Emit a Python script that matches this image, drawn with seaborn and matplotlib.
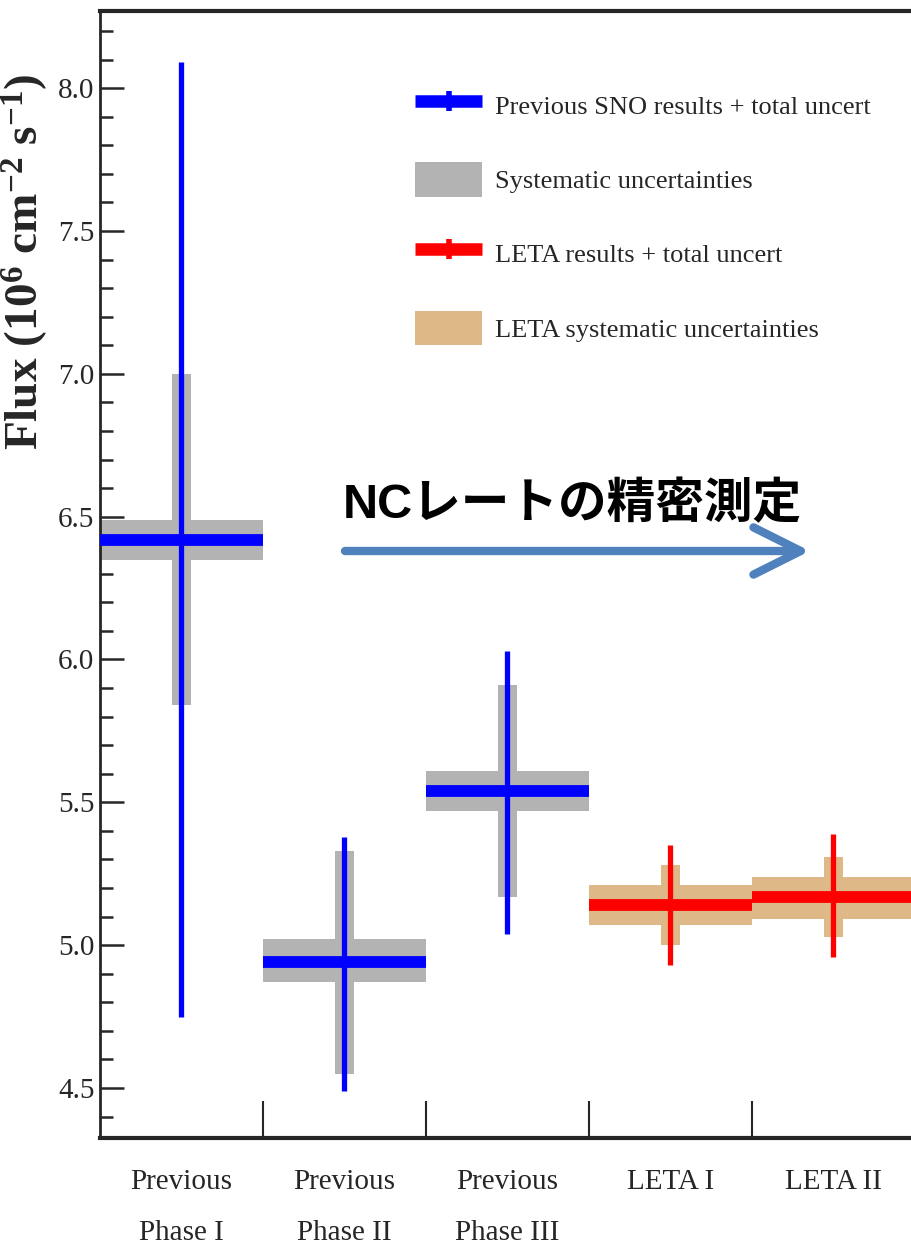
import matplotlib
matplotlib.use("Agg")
import matplotlib.pyplot as plt
from matplotlib.lines import Line2D
from matplotlib.patches import Patch
from matplotlib.ticker import MultipleLocator, FixedLocator
import seaborn as sns

# values (10^6 cm^-2 s^-1)
categories = ["Previous\nPhase I", "Previous\nPhase II", "Previous\nPhase III", "LETA I", "LETA II"]
flux = [6.42, 4.94, 5.54, 5.14, 5.17]
total_hi = [8.09, 5.38, 6.03, 5.35, 5.39]
total_lo = [4.75, 4.49, 5.04, 4.93, 4.96]
syst_hi = [7.00, 5.33, 5.91, 5.28, 5.31]
syst_lo = [5.84, 4.55, 5.17, 5.00, 5.03]
band_hi = [6.49, 5.02, 5.61, 5.21, 5.24]
band_lo = [6.35, 4.87, 5.47, 5.07, 5.09]
is_leta = [False, False, False, True, True]

BLUE, RED = "#0000ff", "#ff0000"
GRAY, TAN = "#b3b3b3", "#deb887"
SERIF = "Liberation Serif"

sns.set_style("ticks")
plt.rcParams["font.family"] = [SERIF, "DejaVu Serif"]
plt.rcParams["mathtext.fontset"] = "custom"
plt.rcParams["mathtext.rm"] = SERIF + ":bold"
plt.rcParams["mathtext.it"] = SERIF + ":bold"
plt.rcParams["mathtext.bf"] = SERIF + ":bold"

fig = plt.figure(figsize=(9.12, 12.52), dpi=100)
ax = fig.add_axes([100 / 912, 1 - 1138 / 1252, 815 / 912, 1127 / 1252])

xs = list(range(len(categories)))
for x, f, th, tl, sh, sl, bh, bl, leta in zip(xs, flux, total_hi, total_lo, syst_hi,
                                              syst_lo, band_hi, band_lo, is_leta):
    line_c = RED if leta else BLUE
    box_c = TAN if leta else GRAY
    ax.bar(x, bh - bl, bottom=bl, width=1.0, color=box_c, linewidth=0, zorder=1)
    ax.bar(x, sh - sl, bottom=sl, width=0.118, color=box_c, linewidth=0, zorder=1)
    ax.hlines(f, x - 0.5, x + 0.5, color=line_c, lw=8.5, zorder=3)
    ax.vlines(x, tl, th, color=line_c, lw=3.8, zorder=3)

ax.set_xlim(-0.5, 4.5)
ax.set_ylim(4.325, 8.27)

ax.yaxis.set_major_locator(MultipleLocator(0.5))
ax.yaxis.set_minor_locator(MultipleLocator(0.1))
ax.yaxis.set_major_formatter(matplotlib.ticker.FormatStrFormatter("%.1f"))
ax.tick_params(axis="y", which="major", direction="in", length=17, width=1.8,
               labelsize=21, pad=4)
ax.tick_params(axis="y", which="minor", direction="in", length=9, width=1.8)

ax.set_xticks(xs)
ax.set_xticklabels(categories, fontsize=21, linespacing=2.25, va="top")
ax.xaxis.set_minor_locator(FixedLocator([0.5, 1.5, 2.5, 3.5]))
ax.tick_params(axis="x", which="major", length=0, pad=22)
ax.tick_params(axis="x", which="minor", direction="in", length=27, width=1.5)

ax.spines["left"].set_linewidth(2)
for side in ["top", "bottom"]:
    ax.spines[side].set_linewidth(3)
ax.spines["right"].set_visible(False)

ax.set_ylabel(r"Flux (10$^{6}$ cm$^{-2}$ s$^{-1}$)", fontsize=34, fontweight="bold")
ax.yaxis.set_label_coords(-0.061, 0.777)

handles = [
    Line2D([], [], color=BLUE, lw=9, marker="|", markersize=14, markeredgewidth=4,
           solid_capstyle="butt"),
    Patch(facecolor=GRAY, edgecolor="none"),
    Line2D([], [], color=RED, lw=9, marker="|", markersize=14, markeredgewidth=4,
           solid_capstyle="butt"),
    Patch(facecolor=TAN, edgecolor="none"),
]
labels = ["Previous SNO results + total uncert", "Systematic uncertainties",
          "LETA results + total uncert", "LETA systematic uncertainties"]
ax.legend(handles, labels, loc="upper left", bbox_to_anchor=(0.3865, 0.932),
          frameon=False, fontsize=19, handlelength=2.55, handleheight=1.65,
          handletextpad=0.5, labelspacing=1.5, borderpad=0, borderaxespad=0)

fig.text(572 / 912, 1 - 505 / 1252, "NCレートの精密測定", ha="center", va="center",
         fontsize=35, fontweight="bold", color="black",
         family=["Liberation Sans", "Noto Sans CJK JP"])
ax.annotate("", xy=(810 / 912, 1 - 551 / 1252), xytext=(345 / 912, 1 - 551 / 1252),
            xycoords="figure fraction", textcoords="figure fraction",
            arrowprops=dict(arrowstyle="->,head_length=1.7,head_width=0.85",
                            color="#4f81bd", lw=6, mutation_scale=20,
                            shrinkA=0, shrinkB=0))

fig.savefig("out.png", dpi=100)
